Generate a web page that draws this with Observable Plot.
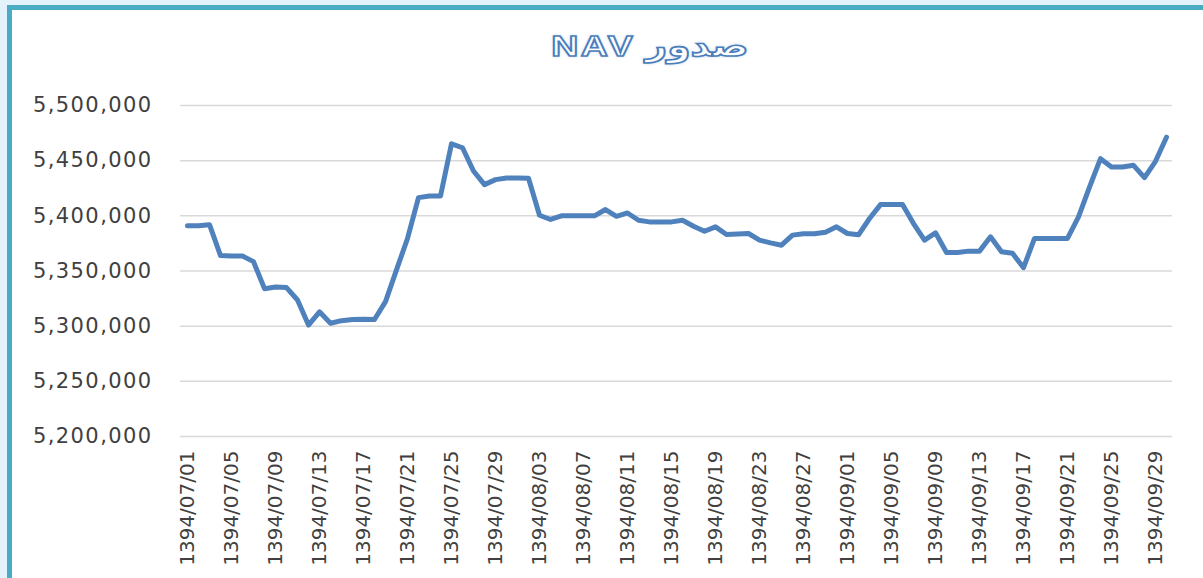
<!DOCTYPE html>
<html>
<head>
<meta charset="utf-8">
<script src="https://cdn.jsdelivr.net/npm/d3@7"></script>
<script src="https://cdn.jsdelivr.net/npm/@observablehq/plot@0.6"></script>
<style>
  html, body { margin: 0; padding: 0; width: 1203px; height: 578px; overflow: hidden; background: #e4f2fb; }
  #frame { position: absolute; left: 7px; top: 5px; width: 1300px; height: 700px; background: #ffffff;
           border-top: 5px solid #4aabc5; border-left: 5px solid #4aabc5; box-sizing: border-box; }
  #title { position: absolute; left: 0; top: 28px; width: 1300px; text-align: center; pointer-events: none; }
  #title span { display: inline-block; font-family: Arial, "Liberation Sans", "DejaVu Sans", sans-serif;
                font-weight: bold; font-size: 30px; color: #ffffff; letter-spacing: 2px;
                -webkit-text-stroke: 1.6px #4a7ebb; text-shadow: 0 0 3px rgba(79,129,189,0.55);
                transform: scaleX(1.25); transform-origin: center; }
  #chart { position: absolute; left: 0; top: 0; }
  #chart svg [aria-label="y-axis tick label"] text { letter-spacing: 1.4px; }
</style>
</head>
<body>
<div id="frame"></div>
<div id="title"><span id="titletext" dir="rtl">صدور NAV</span></div>
<div id="chart"></div>
<script>
// Categories: Persian-calendar dates 1394/07/01 .. 1394/09/30
const months = ["07", "08", "09"];
const daysPerMonth = [30, 30, 30];
const dates = [];
months.forEach((m, mi) => {
  for (let d = 1; d <= daysPerMonth[mi]; d++) dates.push("1394/" + m + "/" + String(d).padStart(2, "0"));
});

// NAV values
const navValues = [
  5391000, 5391000, 5392000, 5364000, 5363500, 5363500, 5358500, 5334000, 5335500, 5335000,
  5323700, 5301000, 5313000, 5302600, 5305000, 5306000, 5306200, 5306000, 5322200, 5351000,
  5379500, 5416500, 5418000, 5418000, 5465300, 5461700, 5440600, 5428300, 5432800, 5434300,
  5434300, 5434000, 5400500, 5396700, 5400000, 5400000, 5400000, 5400000, 5405700, 5399600,
  5402600, 5396000, 5394500, 5394500, 5394500, 5396000, 5390600, 5386000, 5390000, 5383100,
  5383600, 5384000, 5378000, 5375500, 5373400, 5382500, 5383700, 5383700, 5385200, 5390000,
  5384000, 5382800, 5397600, 5410200, 5410200, 5410200, 5393000, 5378000, 5384600, 5366800,
  5366800, 5368000, 5368000, 5381000, 5367400, 5366000, 5353000, 5379500, 5379500, 5379500,
  5379500, 5399000, 5426100, 5451800, 5444200, 5444200, 5445800, 5434600, 5449400, 5471300
];

// Tick labels
const xTickLabels = dates.filter((d, i) => i % 4 === 0);
const yTickValues = [5200000, 5250000, 5300000, 5350000, 5400000, 5450000, 5500000];

const data = dates.map((d, i) => ({date: d, value: navValues[i]}));

const chart = Plot.plot({
  width: 1203,
  height: 578,
  marginLeft: 180,
  marginRight: 31,
  marginTop: 105,
  marginBottom: 142,
  style: {background: "transparent", fontFamily: "'DejaVu Sans', sans-serif", fontSize: "20px", color: "#404040"},
  x: {type: "point", domain: dates, padding: 0.5, label: null},
  y: {domain: [5200000, 5500000], label: null},
  marks: [
    Plot.gridY(yTickValues, {stroke: "#d9d9d9", strokeOpacity: 1, strokeWidth: 1.5}),
    Plot.axisY(yTickValues, {tickFormat: d3.format(","), tickSize: 0, tickPadding: 28, fontSize: 21, label: null, fill: "#404040"}),
    Plot.axisX(xTickLabels, {tickRotate: -90, tickSize: 0, tickPadding: 14, fontSize: 20, label: null, fill: "#404040"}),
    Plot.line(data, {x: "date", y: "value", stroke: "#4f81bd", strokeWidth: 5, strokeLinejoin: "round", strokeLinecap: "round"})
  ]
});
document.getElementById("chart").appendChild(chart);
</script>
</body>
</html>
